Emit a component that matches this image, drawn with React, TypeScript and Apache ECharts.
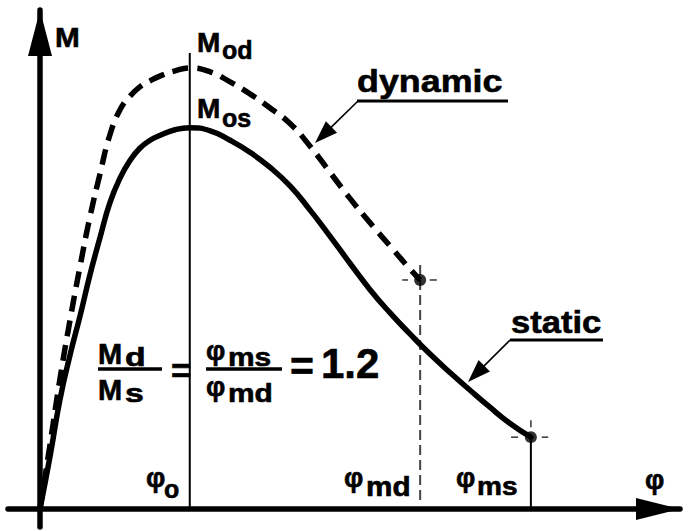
import React, { useEffect, useRef } from "react";
import * as echarts from "echarts";

// ---- data (φ and M in arbitrary units) ----
const phiStatic = [0, 1.6, 3.1, 4.7, 6.3, 7.8, 9.4, 10.9, 12.5, 14.1, 15.6, 17.2, 18.8, 21.1, 23.4, 26.6, 29.7, 32.8, 35.9, 39.1, 42.2, 45.3, 48.4, 51.6, 54.7, 57.8, 60.9, 64.1, 67.2, 70.3, 73.4, 76.7];
const mStatic = [0, 10.8, 21.8, 30.9, 38.9, 46.9, 54.5, 61.3, 66.3, 69.9, 72.3, 73.9, 74.9, 76.0, 76.4, 75.8, 73.9, 71.5, 68.5, 64.7, 59.9, 54.7, 49.3, 43.9, 39.3, 35.1, 31.1, 27.3, 23.8, 20.4, 17.2, 14.4];
const phiDynamic = [0, 1.6, 3.1, 4.7, 6.3, 7.8, 9.4, 10.9, 12.5, 14.1, 15.6, 17.2, 18.8, 21.1, 23.4, 26.6, 29.7, 32.8, 35.9, 39.1, 42.2, 45.3, 48.4, 51.6, 54.7, 57.8, 59.4];
const mDynamic = [0, 13.2, 25.9, 37.9, 48.9, 58.5, 67.3, 74.9, 80.0, 82.8, 84.6, 85.8, 86.8, 87.8, 88.4, 87.6, 85.6, 83.2, 80.4, 77.2, 72.7, 67.5, 62.3, 57.3, 52.7, 48.1, 45.9];

const phiO = 23.4;
const phiMd = 59.4;
const phiMs = 76.7;
const mEndStatic = 14.4;
const mEndDynamic = 45.9;
const phiOLineTop = 91.4;
const mdLineRange = [1.8, 48.9];
// small crosshair ticks around the end markers: [x1, y1, x2, y2]
const crossTicks = [
  [56.6, 45.9, 57.5, 45.9],
  [60.9, 45.9, 62.0, 45.9],
  [73.6, 14.4, 74.7, 14.4],
  [78.4, 14.4, 79.4, 14.4],
  [76.7, 16.4, 76.7, 17.8],
];

const X_RANGE = [-5, 100];
const Y_RANGE = [-3.6, 100];

const FONT = "'Liberation Sans', Arial, Helvetica, sans-serif";

function txt(text: string, x: number, y: number, size: number, scaleX = 1) {
  return {
    type: "text",
    x,
    y,
    scaleX,
    silent: true,
    style: {
      text,
      fontSize: size,
      fontWeight: "bold",
      fontFamily: FONT,
      fill: "#000",
      stroke: "#000",
      lineWidth: 0.6,
      align: "left",
      verticalAlign: "middle",
    },
  };
}

function seg(x1: number, y1: number, x2: number, y2: number, w: number) {
  return {
    type: "line",
    silent: true,
    shape: { x1, y1, x2, y2 },
    style: { stroke: "#000", lineWidth: w },
  };
}

function callout(fromX: number, fromY: number, tipX: number, tipY: number) {
  const dx = tipX - fromX;
  const dy = tipY - fromY;
  const L = Math.hypot(dx, dy);
  const ux = dx / L;
  const uy = dy / L;
  const len = 23;
  const half = 8;
  const bx = tipX - ux * len;
  const by = tipY - uy * len;
  return [
    seg(fromX, fromY, bx + ux * 2, by + uy * 2, 1.6),
    {
      type: "polygon",
      silent: true,
      shape: {
        points: [
          [tipX, tipY],
          [bx - uy * half, by + ux * half],
          [bx + uy * half, by - ux * half],
        ],
      },
      style: { fill: "#000" },
    },
  ];
}

export default function App() {
  const ref = useRef<HTMLDivElement>(null);
  useEffect(() => {
    if (!ref.current) return;
    const chart = echarts.init(ref.current, undefined, { renderer: "svg" });
    const staticData = phiStatic.map((p, i) => [p, mStatic[i]]);
    const dynamicData = phiDynamic.map((p, i) => [p, mDynamic[i]]);
    const plain = { symbol: "none", showSymbol: false, silent: true, animation: false };
    const tickSeries = crossTicks.map((t) => ({
      type: "line",
      ...plain,
      data: [
        [t[0], t[1]],
        [t[2], t[3]],
      ],
      lineStyle: { color: "#333", width: 1.5 },
      z: 2,
    }));

    chart.setOption({
      animation: false,
      backgroundColor: "#fff",
      grid: { left: 8, right: 7, top: 10, bottom: 3 },
      xAxis: {
        type: "value",
        min: X_RANGE[0],
        max: X_RANGE[1],
        axisLine: {
          onZero: true,
          symbol: ["none", "triangle"],
          symbolSize: [22, 44],
          symbolOffset: [0, -22],
          lineStyle: { color: "#000", width: 5.5 },
        },
        axisTick: { show: false },
        axisLabel: { show: false },
        splitLine: { show: false },
      },
      yAxis: {
        type: "value",
        min: Y_RANGE[0],
        max: Y_RANGE[1],
        axisLine: {
          onZero: true,
          symbol: ["none", "triangle"],
          symbolSize: [24, 46],
          symbolOffset: [0, -23],
          lineStyle: { color: "#000", width: 5.5 },
        },
        axisTick: { show: false },
        axisLabel: { show: false },
        splitLine: { show: false },
      },
      series: [
        {
          type: "line",
          ...plain,
          data: [
            [phiO, 0],
            [phiO, phiOLineTop],
          ],
          lineStyle: { color: "#000", width: 2 },
          z: 1,
        },
        {
          type: "line",
          ...plain,
          data: [
            [phiMd, mdLineRange[0]],
            [phiMd, mdLineRange[1]],
          ],
          lineStyle: { color: "#444", width: 2, type: [10, 5] },
          z: 1,
        },
        {
          type: "line",
          ...plain,
          data: [
            [phiMs, 0],
            [phiMs, mEndStatic],
          ],
          lineStyle: { color: "#000", width: 2 },
          z: 1,
        },
        ...tickSeries,
        {
          type: "line",
          ...plain,
          data: staticData,
          smooth: 0.5,
          lineStyle: { color: "#000", width: 5.5, cap: "round" },
          z: 3,
        },
        {
          type: "line",
          ...plain,
          data: dynamicData,
          smooth: 0.5,
          lineStyle: { color: "#000", width: 5.5, type: [16, 9], cap: "butt" },
          z: 3,
        },
        {
          type: "scatter",
          silent: true,
          data: [
            [phiMs, mEndStatic],
            [phiMd, mEndDynamic],
          ],
          symbolSize: 12,
          itemStyle: { color: "#000" },
          z: 4,
        },
      ],
      graphic: [
        // axis names
        txt("M", 55, 37, 27, 1.1),
        txt("φ", 645, 480, 27),
        // peak labels
        txt("M", 197, 42, 28),
        txt("od", 222, 50, 25),
        txt("M", 197, 108, 28),
        txt("os", 222, 118, 25),
        // φ labels on the axis
        txt("φ", 146, 478, 27),
        txt("o", 164, 489, 25),
        txt("φ", 344, 478, 27),
        txt("md", 366, 486, 27, 1.1),
        txt("φ", 456, 478, 27),
        txt("ms", 477, 486, 26, 1.08),
        // formula
        txt("M", 98, 354, 29),
        txt("d", 125, 357, 26, 1.3),
        seg(98, 369, 162, 369, 3.5),
        txt("M", 98, 390, 29),
        txt("s", 125, 393, 26, 1.3),
        txt("=", 171, 370, 35),
        txt("φ", 206, 351, 27),
        txt("ms", 228, 357, 26, 1.15),
        seg(206, 369, 282, 369, 3.5),
        txt("φ", 206, 387, 27),
        txt("md", 228, 393, 26, 1.15),
        txt("=", 290, 366, 41),
        txt("1.2", 321, 363, 42),
        // callouts
        txt("dynamic", 357, 81, 32, 1.12),
        seg(357, 101, 508, 101, 3),
        ...callout(358, 101, 315, 143),
        txt("static", 511, 322, 32, 1.08),
        seg(510, 340, 603, 340, 3),
        ...callout(510, 340, 468, 382),
      ],
    });
    return () => chart.dispose();
  }, []);
  return (
    <div
      ref={ref}
      style={{ position: "absolute", left: 0, top: 0, width: 687, height: 530, background: "#fff" }}
    />
  );
}
